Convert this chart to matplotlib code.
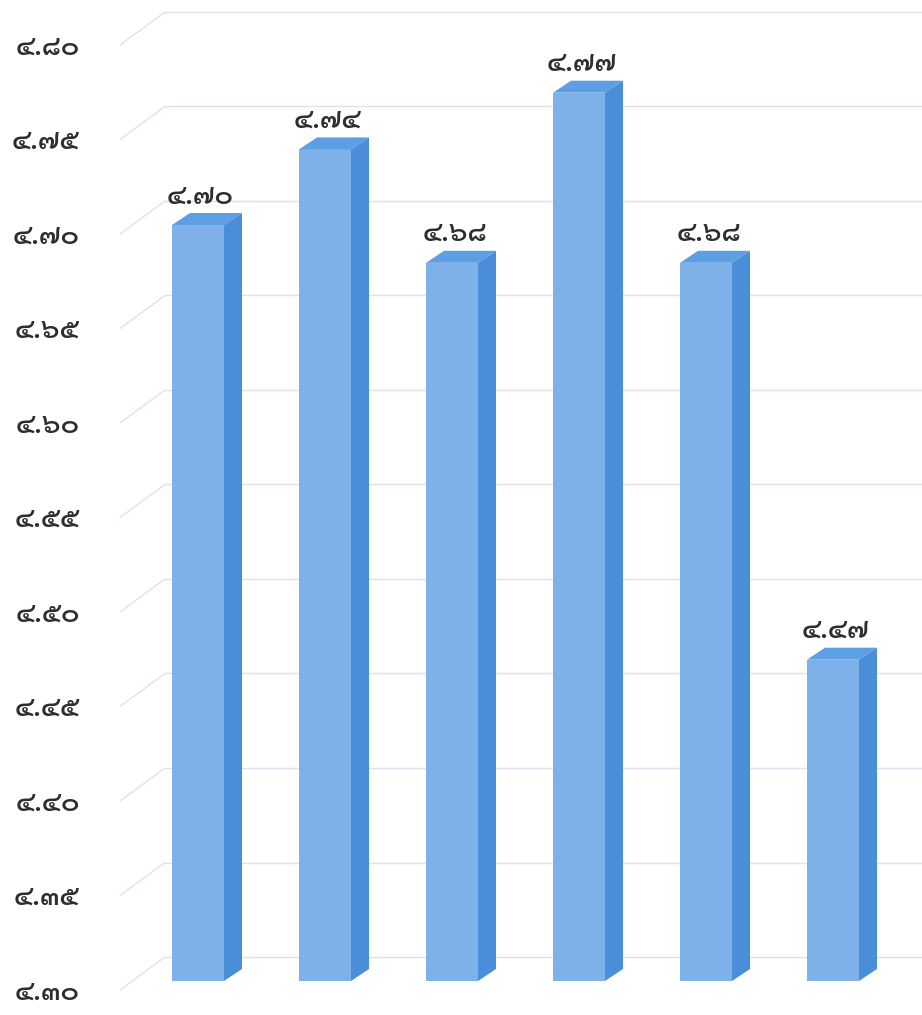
import matplotlib
matplotlib.use("Agg")
import matplotlib.pyplot as plt
from matplotlib.patches import Polygon
import numpy as np

THAI_DIGITS = str.maketrans("0123456789", "๐๑๒๓๔๕๖๗๘๙")

def thai(x):
    return f"{x:.2f}".translate(THAI_DIGITS)

# data
categories = ["1", "2", "3", "4", "5", "6"]
values = [4.70, 4.74, 4.68, 4.77, 4.68, 4.47]
tick_values = [4.30, 4.35, 4.40, 4.45, 4.50, 4.55, 4.60, 4.65, 4.70, 4.75, 4.80]

plt.rcParams["font.family"] = ["Sarabun", "DejaVu Sans"]

W, H = 922, 1015
fig = plt.figure(figsize=(W / 100, H / 100), dpi=100)
left_px = 120
ax = fig.add_axes([left_px / W, 0, (W - left_px) / W, 1])

px_per_unit = 1890.0
base = 4.30
y0 = base - 34 / px_per_unit
y1 = y0 + H / px_per_unit
ax.set_ylim(y0, y1)
x_unit = 127.0
x_first = 198.0
ax.set_xlim((left_px - x_first) / x_unit, (W - x_first) / x_unit)

# oblique depth offsets
bar_w = 52 / x_unit
bar_dx = 18 / x_unit
bar_dy = 12 / px_per_unit
wall_dy = 24 / px_per_unit
floor_drop = 9 / px_per_unit
wall_front_x = (left_px - x_first) / x_unit
wall_back_x = (165 - x_first) / x_unit
xmax = ax.get_xlim()[1] + 1

grid_color = "#e0e0f2"
for v in tick_values:
    yb = v + wall_dy
    ax.plot([wall_front_x, wall_back_x], [v - floor_drop, yb], color=grid_color,
            lw=1.0, zorder=1, solid_capstyle="butt")
    ax.plot([wall_back_x, xmax], [yb, yb], color=grid_color, lw=1.0, zorder=1)

front_c = "#7eb0ea"
side_c = "#4a8ed9"
top_c = "#5e9fe3"
xs = np.arange(len(categories))
ax.bar(xs, [v - base for v in values], bottom=base, width=bar_w,
       color=front_c, edgecolor="none", zorder=3)
for x, v in zip(xs, values):
    xl, xr = x - bar_w / 2, x + bar_w / 2
    ax.add_patch(Polygon([(xl, v), (xr, v), (xr + bar_dx, v + bar_dy), (xl + bar_dx, v + bar_dy)],
                         closed=True, facecolor=top_c, edgecolor="none", zorder=3))
    ax.add_patch(Polygon([(xr, base), (xr + bar_dx, base + bar_dy), (xr + bar_dx, v + bar_dy), (xr, v)],
                         closed=True, facecolor=side_c, edgecolor="none", zorder=3))
    ax.text(x + 0.02, v + 29 / px_per_unit, thai(v), ha="center", va="center",
            fontsize=20, fontweight="semibold", color="#2e2e2e", zorder=4)

label_drop = 8 / px_per_unit
ax.set_yticks([v - label_drop for v in tick_values])
ax.set_yticklabels([thai(v) for v in tick_values])
ax.tick_params(axis="y", length=0, pad=29, labelsize=20, labelcolor="#2e2e2e")
for lab in ax.get_yticklabels():
    lab.set_fontweight("semibold")
ax.set_xticks([])
for s in ax.spines.values():
    s.set_visible(False)
ax.patch.set_alpha(0)

fig.savefig("out.png", dpi=100)
